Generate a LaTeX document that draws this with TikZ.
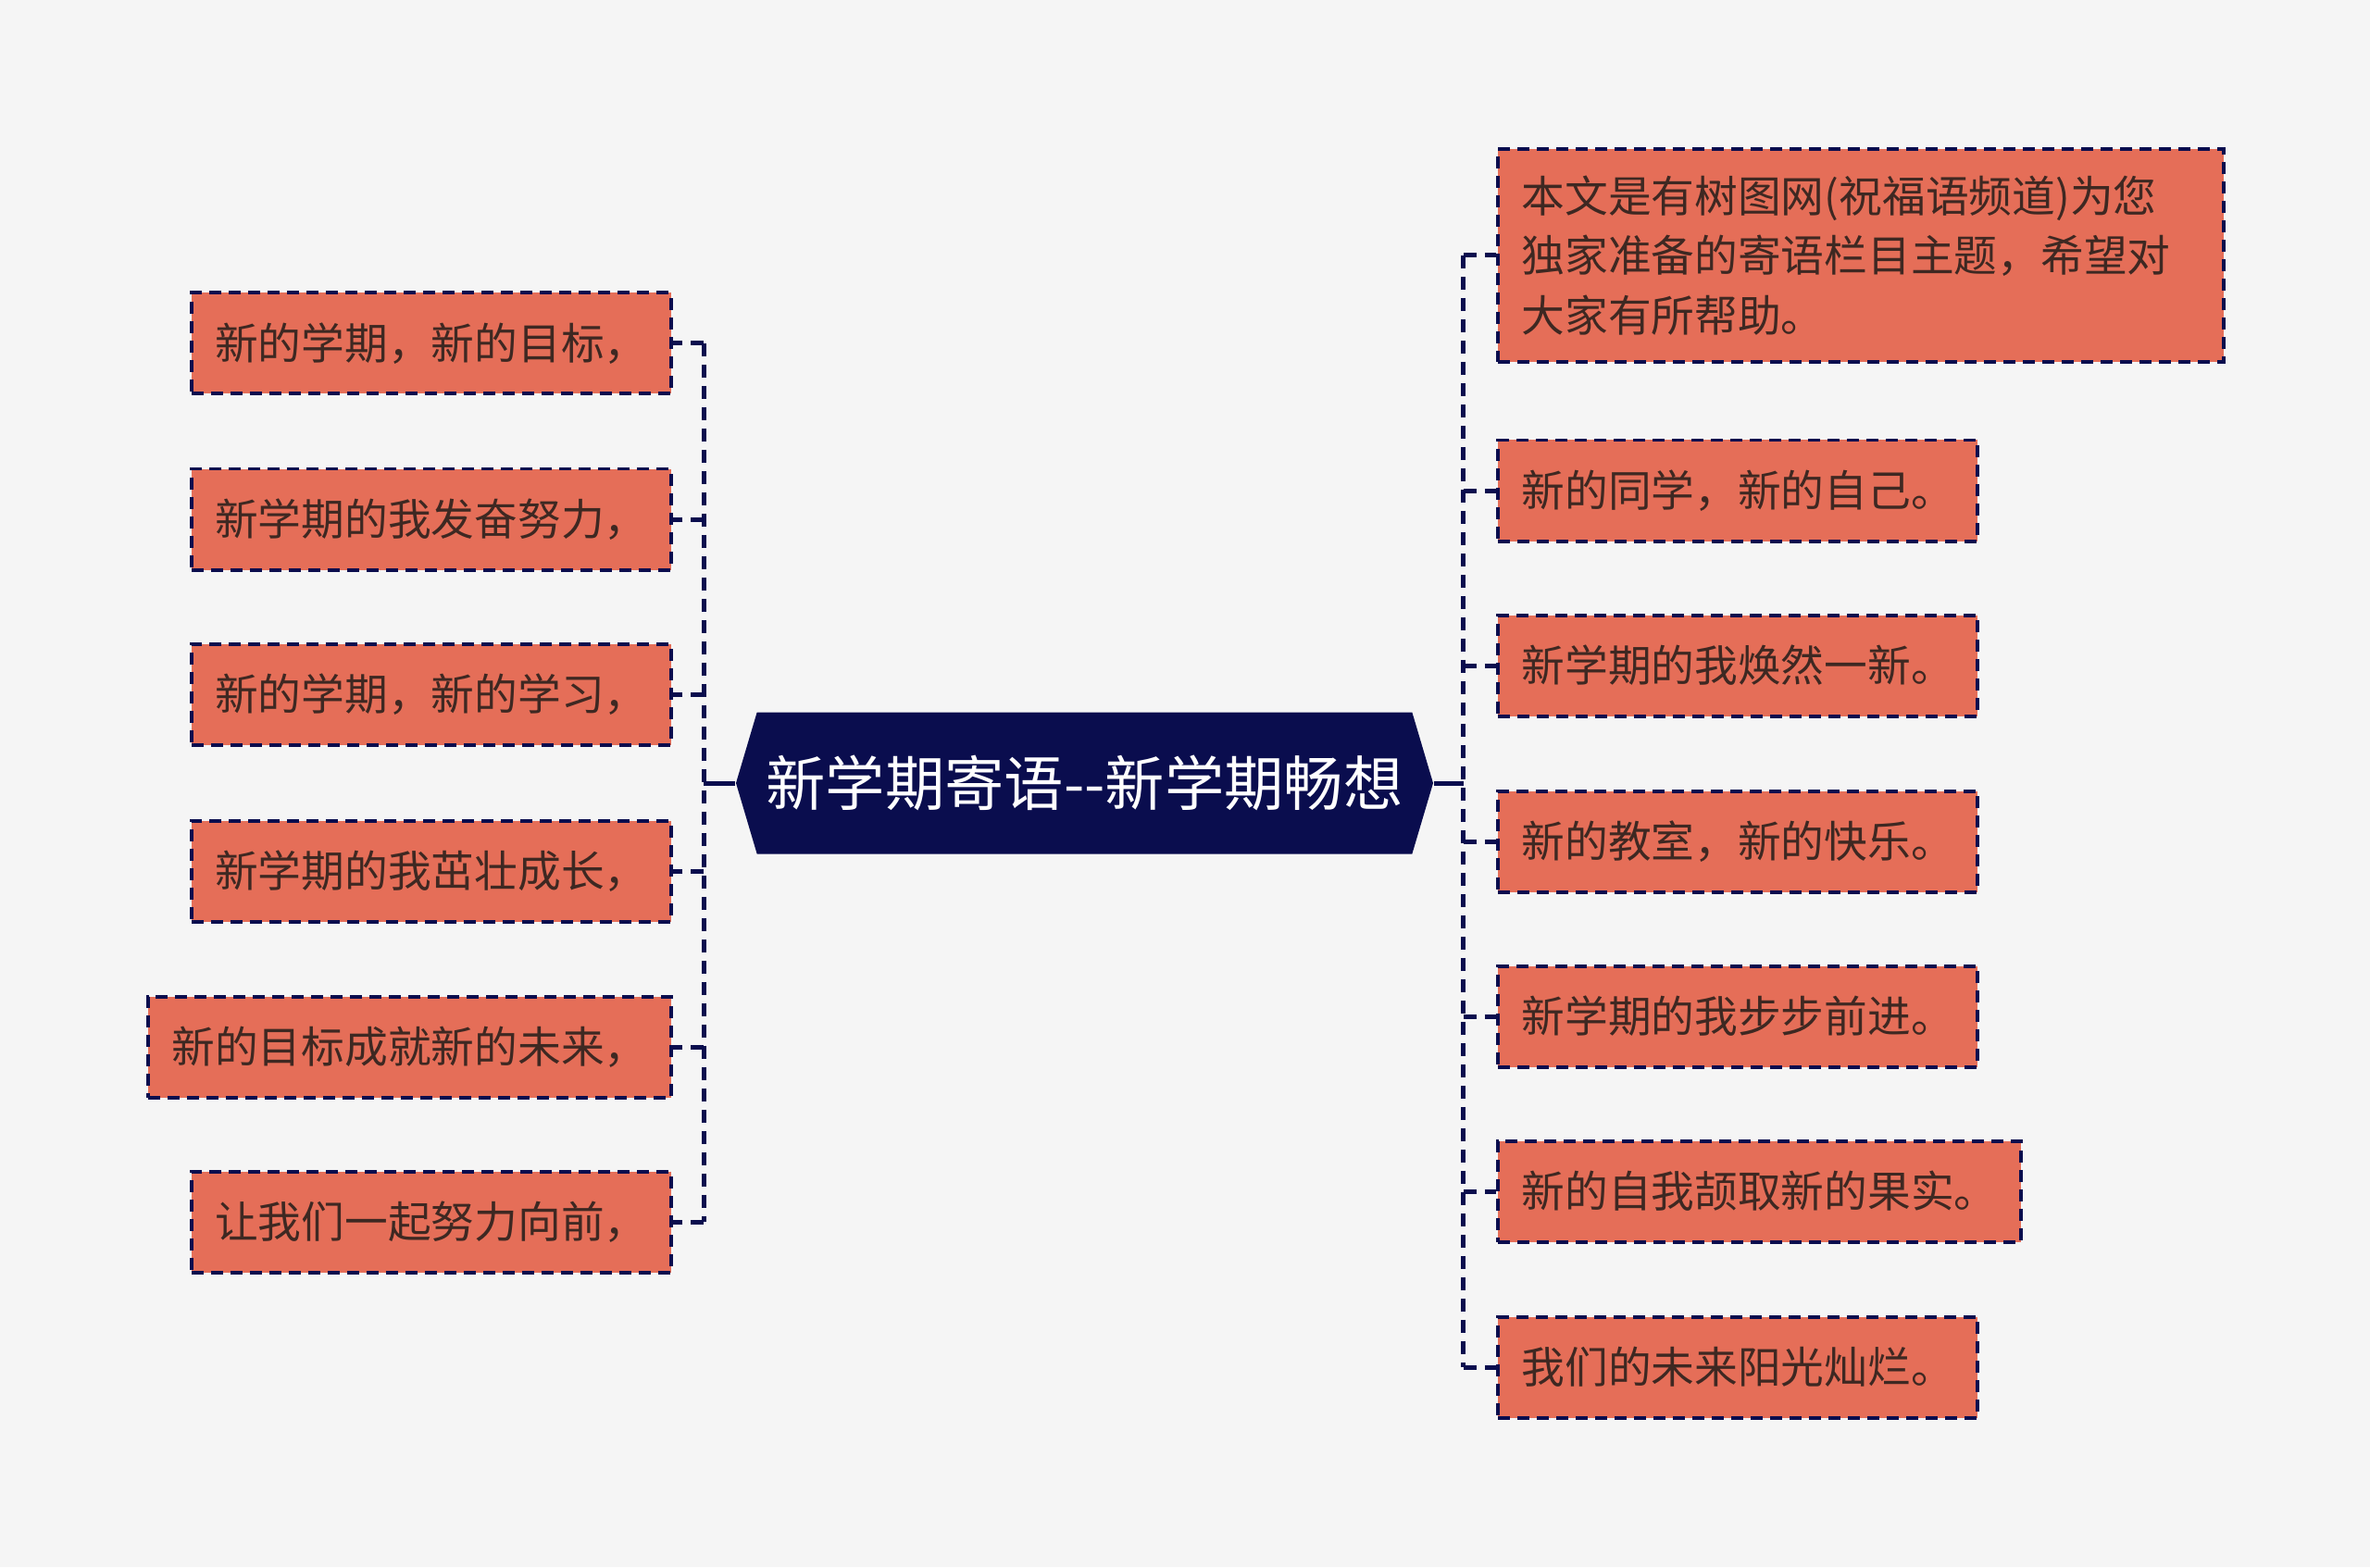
\documentclass[tikz,border=0pt]{standalone}
\usepackage{fontspec}
\newfontfamily\cjk{Noto Sans CJK SC}
\usetikzlibrary{shapes.symbols,positioning}
\definecolor{navy}{RGB}{10,13,78}
\definecolor{salmon}{RGB}{229,110,88}
\definecolor{ink}{RGB}{62,40,34}
\definecolor{paper}{RGB}{245,245,245}

\begin{document}
\begin{tikzpicture}[
  leaf/.style = {draw=navy, fill=salmon, text=ink, line width=0.04cm, dash pattern=on 0.13cm off 0.08cm, inner xsep=0.255cm, inner ysep=0.29cm, minimum height=1.09cm, align=left, font=\cjk\fontsize{13.3pt}{18.3pt}\selectfont},
  hub/.style = {shape=signal, signal to=west and east, signal pointer angle=147, fill=navy, text=white, inner sep=0pt, minimum width=7.53cm, minimum height=1.53cm, font=\cjk\fontsize{18.3pt}{22pt}\selectfont},
  link/.style = {draw=navy, line width=0.05cm, dash pattern=on 0.14cm off 0.09cm}]
\fill[paper] (0,0) rectangle (25.6,16.93);
\useasboundingbox (0,0) rectangle (25.6,16.93);

\node[hub] (hub) at (11.715,8.47) {新学期寄语-\kern0pt-新学期畅想};

\node[leaf, anchor=east] (l1) at (7.27,13.22) {新的学期，新的目标，};
\node[leaf, anchor=east] (l2) at (7.27,11.32) {新学期的我发奋努力，};
\node[leaf, anchor=east] (l3) at (7.27,9.43) {新的学期，新的学习，};
\node[leaf, anchor=east] (l4) at (7.27,7.52) {新学期的我茁壮成长，};
\node[leaf, anchor=east] (l5) at (7.27,5.62) {新的目标成就新的未来，};
\node[leaf, anchor=east] (l6) at (7.27,3.73) {让我们一起努力向前，};

\node[leaf, anchor=west, text width=7.33cm] (r1) at (16.16,14.17) {本文是有树图网(祝福语频道)为您\\独家准备的寄语栏目主题，希望对\\大家有所帮助。};
\node[leaf, anchor=west] (r2) at (16.16,11.63) {新的同学，新的自己。};
\node[leaf, anchor=west] (r3) at (16.16,9.74) {新学期的我焕然一新。};
\node[leaf, anchor=west] (r4) at (16.16,7.84) {新的教室，新的快乐。};
\node[leaf, anchor=west] (r5) at (16.16,5.95) {新学期的我步步前进。};
\node[leaf, anchor=west] (r6) at (16.16,4.06) {新的自我颉取新的果实。};
\node[leaf, anchor=west] (r7) at (16.16,2.16) {我们的未来阳光灿烂。};

% left side
\draw[link, solid] (hub.west) -- ++(-0.34,0) coordinate (ls);
\draw[link] (ls |- l1.east) -- (ls |- l6.east);
\draw[link] (ls |- l1.east) -- (l1.east);
\draw[link] (ls |- l2.east) -- (l2.east);
\draw[link] (ls |- l3.east) -- (l3.east);
\draw[link] (ls |- l4.east) -- (l4.east);
\draw[link] (ls |- l5.east) -- (l5.east);
\draw[link] (ls |- l6.east) -- (l6.east);

% right side
\draw[link, solid] (hub.east) -- ++(0.32,0) coordinate (rs);
\draw[link] (rs |- r1.west) -- (rs |- r7.west);
\draw[link] (rs |- r1.west) -- (r1.west);
\draw[link] (rs |- r2.west) -- (r2.west);
\draw[link] (rs |- r3.west) -- (r3.west);
\draw[link] (rs |- r4.west) -- (r4.west);
\draw[link] (rs |- r5.west) -- (r5.west);
\draw[link] (rs |- r6.west) -- (r6.west);
\draw[link] (rs |- r7.west) -- (r7.west);
\end{tikzpicture}
\end{document}
